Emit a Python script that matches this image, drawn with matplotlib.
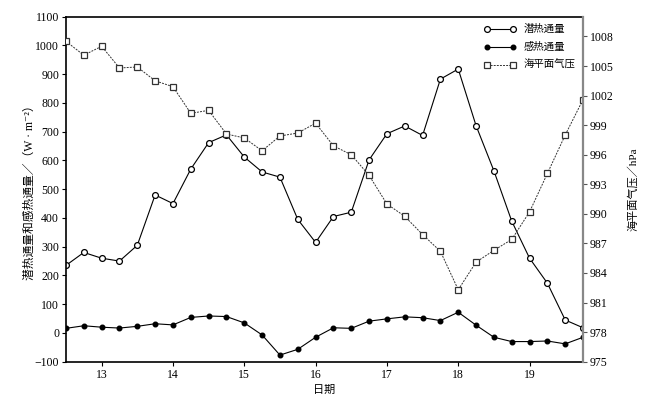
import numpy as np
import matplotlib
matplotlib.use("Agg")
import matplotlib.pyplot as plt

# ----------------------------
# Data (6-hourly, day 12.5 .. 19.75)
# ----------------------------
days = np.arange(12.5, 19.76, 0.25)

latent_flux = [235, 280, 260, 250, 305, 480, 450, 570, 662, 689,
               612, 560, 542, 395, 315, 405, 420, 602, 693, 720,
               687, 883, 918, 721, 564, 389, 260, 173, 45, 18]

sensible_flux = [16, 25, 20, 17, 23, 32, 28, 54, 59, 57,
                 35, -7, -77, -57, -15, 18, 16, 41, 49, 56,
                 53, 43, 72, 27, -15, -30, -30, -28, -38, -15]

slp = [1007.5, 1006.1, 1007.0, 1004.8, 1004.9, 1003.5, 1002.9, 1000.2, 1000.5, 998.1,
       997.7, 996.4, 997.9, 998.2, 999.2, 996.9, 996.0, 993.9, 991.0, 989.75,
       987.9, 986.2, 982.3, 985.1, 986.3, 987.4, 990.2, 994.1, 998.0, 1001.6]

x_ticks = [13, 14, 15, 16, 17, 18, 19]
left_ticks = list(range(-100, 1101, 100))
right_ticks = list(range(975, 1009, 3))

# ----------------------------
# Fonts
# ----------------------------
NUM_FONT = "Liberation Serif"
MIX_FONT = ["Liberation Serif", "Noto Sans CJK SC", "DejaVu Serif"]
CJK_FONT = ["Noto Sans CJK SC", "Liberation Serif"]

# ----------------------------
# Plot
# ----------------------------
fig = plt.figure(figsize=(6.5, 4.08), dpi=100)
ax = fig.add_axes([0.1015, 0.1135, 0.7955, 0.8455])
ax2 = ax.twinx()

l1, = ax.plot(days, latent_flux, color="black", lw=0.8, marker="o", ms=4.2,
              mfc="white", mec="black", mew=0.9, label="潜热通量")
l2, = ax.plot(days, sensible_flux, color="black", lw=0.8, marker="o", ms=3.3,
              mfc="black", mec="black", label="感热通量")
l3, = ax2.plot(days, slp, color="#333333", lw=0.7, ls=(0, (2, 1.2)), marker="s", ms=4.2,
               mfc="white", mec="#333333", mew=0.9, label="海平面气压")

ax.set_xlim(12.5, 19.75)
ax.set_ylim(-100, 1100)
ax2.set_ylim(975, 1010)

ax.set_xticks(x_ticks)
ax.set_yticks(left_ticks)
ax2.set_yticks(right_ticks)

for a in (ax, ax2):
    a.tick_params(direction="out", length=3, width=0.8, labelsize=8.5, pad=2)
    for lab in a.get_xticklabels() + a.get_yticklabels():
        lab.set_fontfamily(NUM_FONT)

ax2.tick_params(axis="y", colors="#555555", labelcolor="black")

for side in ("left", "bottom", "top"):
    ax.spines[side].set_linewidth(1.2)
ax.spines["right"].set_visible(False)
for side in ("left", "bottom", "top"):
    ax2.spines[side].set_visible(False)
ax2.spines["right"].set_linewidth(1.6)
ax2.spines["right"].set_color("#888888")

ax.set_xlabel("日期", fontsize=8, family=CJK_FONT, labelpad=3)
ax.set_ylabel("潜热通量和感热通量／（W · m⁻²）", fontsize=8.5, family=MIX_FONT, labelpad=-1)
ax2.set_ylabel("海平面气压／hPa", fontsize=8, family=MIX_FONT, labelpad=10)

leg = ax2.legend(handles=[l1, l2, l3], loc="upper right", frameon=False,
                 numpoints=2, handlelength=3.1, handletextpad=0.7,
                 labelspacing=0.75, borderaxespad=0.3,
                 prop={"family": CJK_FONT, "size": 7.5})

fig.savefig("out.png", dpi=100)
